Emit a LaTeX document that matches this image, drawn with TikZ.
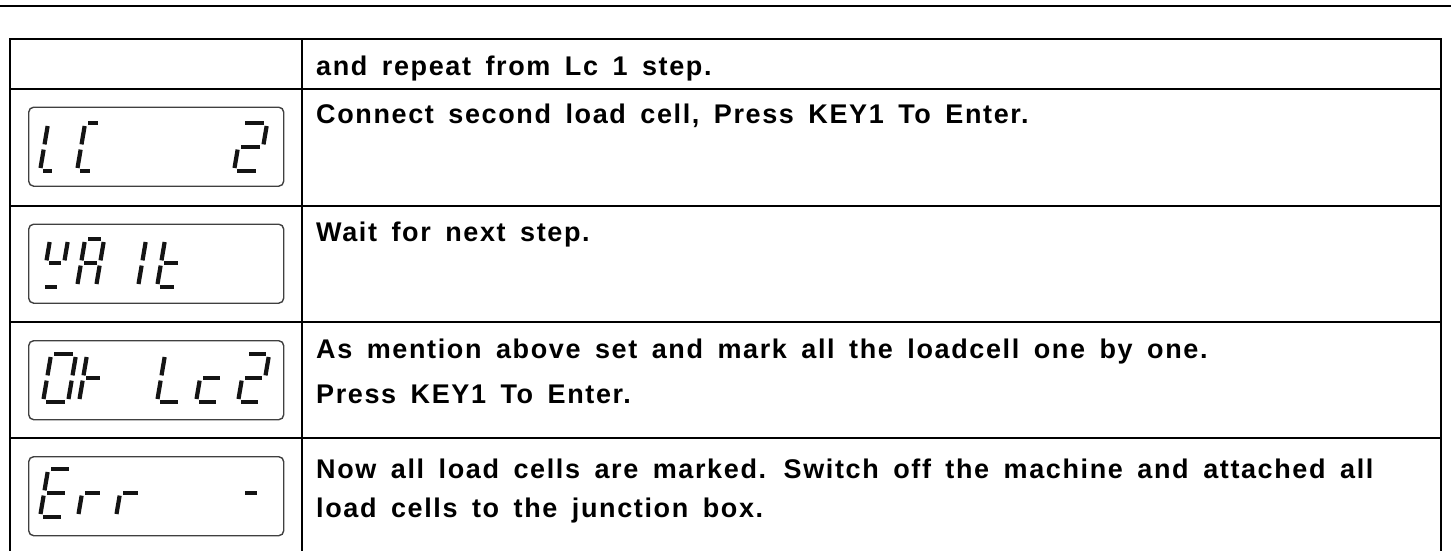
\documentclass[tikz,border=0pt]{standalone}
\usepackage{fontspec}
\setmainfont{Liberation Sans}[LetterSpace=6.0]
\newcommand{\widewords}{\spaceskip=14.5pt\relax}
\tikzset{
  tbl/.style={line width=1.8pt, line cap=rect},
  lcdbox/.style={draw=black!75, line width=1.4pt, rounded corners=5pt, minimum width=255pt, minimum height=79pt, anchor=north west, inner sep=0pt},
  lcdseg/.style={line width=4.2pt, draw=black!92, line cap=butt},
  txt/.style={font=\fontsize{27pt}{40pt}\selectfont\bfseries, anchor=base west, inner sep=0pt, execute at begin node=\widewords}
}
\newcommand{\lcdsega}{\draw[lcdseg] (3,48) -- ({\dw-3},48);}
\newcommand{\lcdsegb}{\draw[lcdseg] (\dw,45) -- (\dw,26.6);}
\newcommand{\lcdsegc}{\draw[lcdseg] (\dw,21.4) -- (\dw,3);}
\newcommand{\lcdsegd}{\draw[lcdseg] (3,0) -- ({\dw-3},0);}
\newcommand{\lcdsege}{\draw[lcdseg] (0,3) -- (0,21.4);}
\newcommand{\lcdsegf}{\draw[lcdseg] (0,26.6) -- (0,45);}
\newcommand{\lcdsegg}{\draw[lcdseg] (3,24) -- ({\dw-3},24);}
\newcommand{\lcddigit}[4]{%
  \begin{scope}[shift={(#1,#2)}, x=1pt, y=1pt, xslant=0.17]
    \def\dw{#3}%
    \foreach \s in {#4}{\csname lcdseg\s\endcsname}%
  \end{scope}}
\begin{document}
\begin{tikzpicture}[x=1pt, y=-1pt]
\useasboundingbox (0,0) rectangle (1451,551);
% top rule
\draw[line width=2.2pt] (0,6) -- (1451,6);
% table
\draw[tbl] (10,551) -- (10,39) -- (1441,39) -- (1441,551);
\draw[tbl] (302,39) -- (302,551);
\foreach \yy in {89,206,322,438} \draw[tbl] (10,\yy) -- (1441,\yy);
% LCD boxes
\node[lcdbox] (d2) at (28,106.5) {};
\node[lcdbox] (d3) at (28,223.5) {};
\node[lcdbox] (d4) at (28,340) {};
\node[lcdbox] (d5) at (28,456) {};
% LC 2
\lcddigit{40}{171}{15}{f,e,d}
\lcddigit{77}{171}{16}{a,f,e,d}
\lcddigit{234}{171}{25}{a,b,g,e,d}
% YAIt
\lcddigit{42}{287}{18}{f,b,g,d}
\lcddigit{77}{287}{19}{a,b,c,e,f,g}
\lcddigit{118}{287}{20}{b,c}
\lcddigit{157}{287}{20}{f,e,g,d}
% 0k Lc2
\lcddigit{43}{402}{25}{a,b,c,d,e,f}
\lcddigit{79}{402}{20}{f,e,g}
\lcddigit{157}{402}{24}{f,e,d}
\lcddigit{196}{402}{23}{g,e,d}
\lcddigit{238}{402}{23}{a,b,g,e,d}
% Err -
\lcddigit{40}{517}{24}{a,f,g,e,d}
\lcddigit{78}{517}{21}{g,e}
\lcddigit{116}{517}{21}{g,e}
\lcddigit{238}{517}{18}{g}
% texts
\node[txt] (t1) at (316,75.5) {and repeat from Lc 1 step.};
\node[txt] (t2) at (316,123) {Connect second load cell, Press KEY1 To Enter.};
\node[txt] (t3) at (316,241.5) {Wait for next step.};
\node[txt] (t4a) at (316,358) {As mention above set and mark all the loadcell one by one.};
\node[txt] (t4b) at (316,403) {Press KEY1 To Enter.};
\node[txt] (t5a) at (316,478) {Now all load cells are marked. Switch off the machine and attached all};
\node[txt] (t5b) at (316,517) {load cells to the junction box.};
\end{tikzpicture}
\end{document}
